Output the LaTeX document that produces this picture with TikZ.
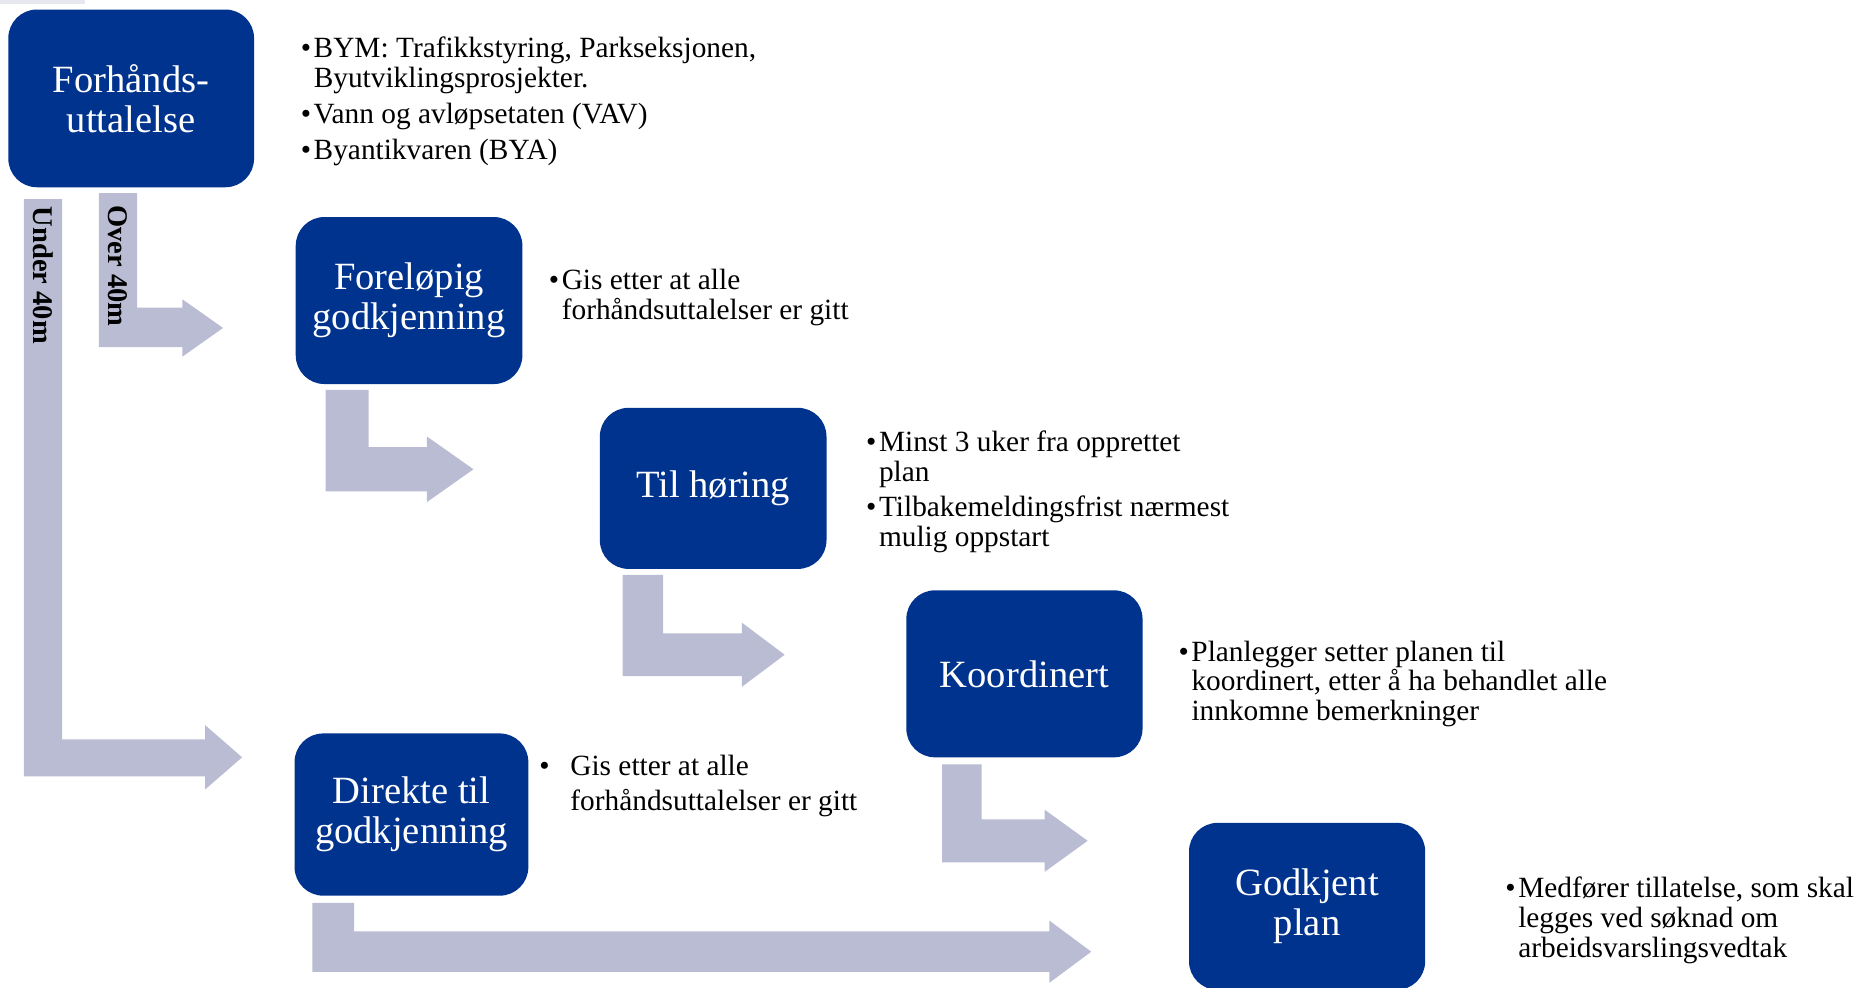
\documentclass[tikz,border=0pt]{standalone}
\usepackage{fontspec}
\setmainfont{Liberation Serif}
\usetikzlibrary{positioning}
\definecolor{stageblue}{RGB}{0,51,141}
\definecolor{arrowgrey}{RGB}{185,188,210}
\newcommand{\blt}{\makebox[0.27cm][l]{\textbullet}}
\newcommand{\bln}{\makebox[0.27cm]{}}
\tikzset{
  stage/.style={fill=stageblue, rounded corners=0.6cm, text=white, align=center,
    inner sep=0pt, font=\fontsize{23}{24}\selectfont},
  note/.style={anchor=west, align=left, inner sep=0pt, font=\fontsize{17.5}{17.8}\selectfont},
  bentarrow/.style={fill=arrowgrey},
  sidelabel/.style={rotate=-90, inner sep=0pt, font=\bfseries\fontsize{17}{18}\selectfont}
}

\begin{document}
\begin{tikzpicture}[x=0.025cm, y=-0.025cm]
\useasboundingbox (0,0) rectangle (1568,828);
\clip (0,0) rectangle (1568,828);

\fill[arrowgrey!35] (0,0) rectangle (71,3);

% Bent arrows
\fill[bentarrow] (83,162) -- (115,162) -- (115,258) -- (153,258) -- (153,251) -- (187,275) -- (153,299) -- (153,291) -- (83,291) -- cycle;
\fill[bentarrow] (20,167) -- (52,167) -- (52,620) -- (172,620) -- (172,608) -- (203,635) -- (172,662) -- (172,651) -- (20,651) -- cycle;
\fill[bentarrow] (273,327) -- (309,327) -- (309,375) -- (358,375) -- (358,366) -- (397,393.5) -- (358,421) -- (358,412) -- (273,412) -- cycle;
\fill[bentarrow] (522,482) -- (556,482) -- (556,531) -- (622,531) -- (622,522) -- (658,549) -- (622,576) -- (622,567) -- (522,567) -- cycle;
\fill[bentarrow] (790,641) -- (823,641) -- (823,687) -- (876,687) -- (876,679) -- (912,705) -- (876,731) -- (876,723) -- (790,723) -- cycle;
\fill[bentarrow] (262,757) -- (297,757) -- (297,781) -- (880,781) -- (880,772) -- (915,798) -- (880,824) -- (880,815) -- (262,815) -- cycle;

\node[sidelabel] (under) at (36,231) {Under 40m};
\node[sidelabel] (over) at (99,223) {Over 40m};

% Stages
\node[stage, minimum width=5.15cm, minimum height=3.725cm] (forhand) at (110,82.5) {Forhånds-\\uttalelse};
\node[stage, minimum width=4.75cm, minimum height=3.5cm] (forelop) at (343,252) {Foreløpig\\godkjenning};
\node[stage, minimum width=4.75cm, minimum height=3.375cm] (horing) at (598,409.5) {Til høring};
\node[stage, minimum width=4.95cm, minimum height=3.5cm] (koord) at (859,565) {Koordinert};
\node[stage, minimum width=4.9cm, minimum height=3.4cm] (direkte) at (345,683) {Direkte til\\godkjenning};
\node[stage, minimum width=4.95cm, minimum height=3.5cm] (godkjent) at (1096,760) {Godkjent\\plan};

% Notes
\node[note] (forhandtxt) at (252,85) {\blt BYM: Trafikkstyring, Parkseksjonen,\\ \bln Byutviklingsprosjekter.\\[3.5pt] \blt Vann og avløpsetaten (VAV)\\[3.5pt] \blt Byantikvaren (BYA)};
\node[note] (foreloptxt) at (460,249.5) {\blt Gis etter at alle\\ \bln forhåndsuttalelser er gitt};
\node[note] (horingtxt) at (726,412.5) {\blt Minst 3 uker fra opprettet\\ \bln plan\\[3.5pt] \blt Tilbakemeldingsfrist nærmest\\ \bln mulig oppstart};
\node[note] (koordtxt) at (988,573.5) {\blt Planlegger setter planen til\\ \bln koordinert, etter å ha behandlet alle\\ \bln innkomne bemerkninger};
\node[note, font=\fontsize{17.5}{20.5}\selectfont] (direktetxt) at (452,659) {\makebox[0.65cm][l]{\textbullet}Gis etter at alle\\ \makebox[0.65cm]{}forhåndsuttalelser er gitt};
\node[note] (godkjenttxt) at (1262,771.5) {\blt Medfører tillatelse, som skal\\ \bln legges ved søknad om\\ \bln arbeidsvarslingsvedtak};

\end{tikzpicture}
\end{document}
